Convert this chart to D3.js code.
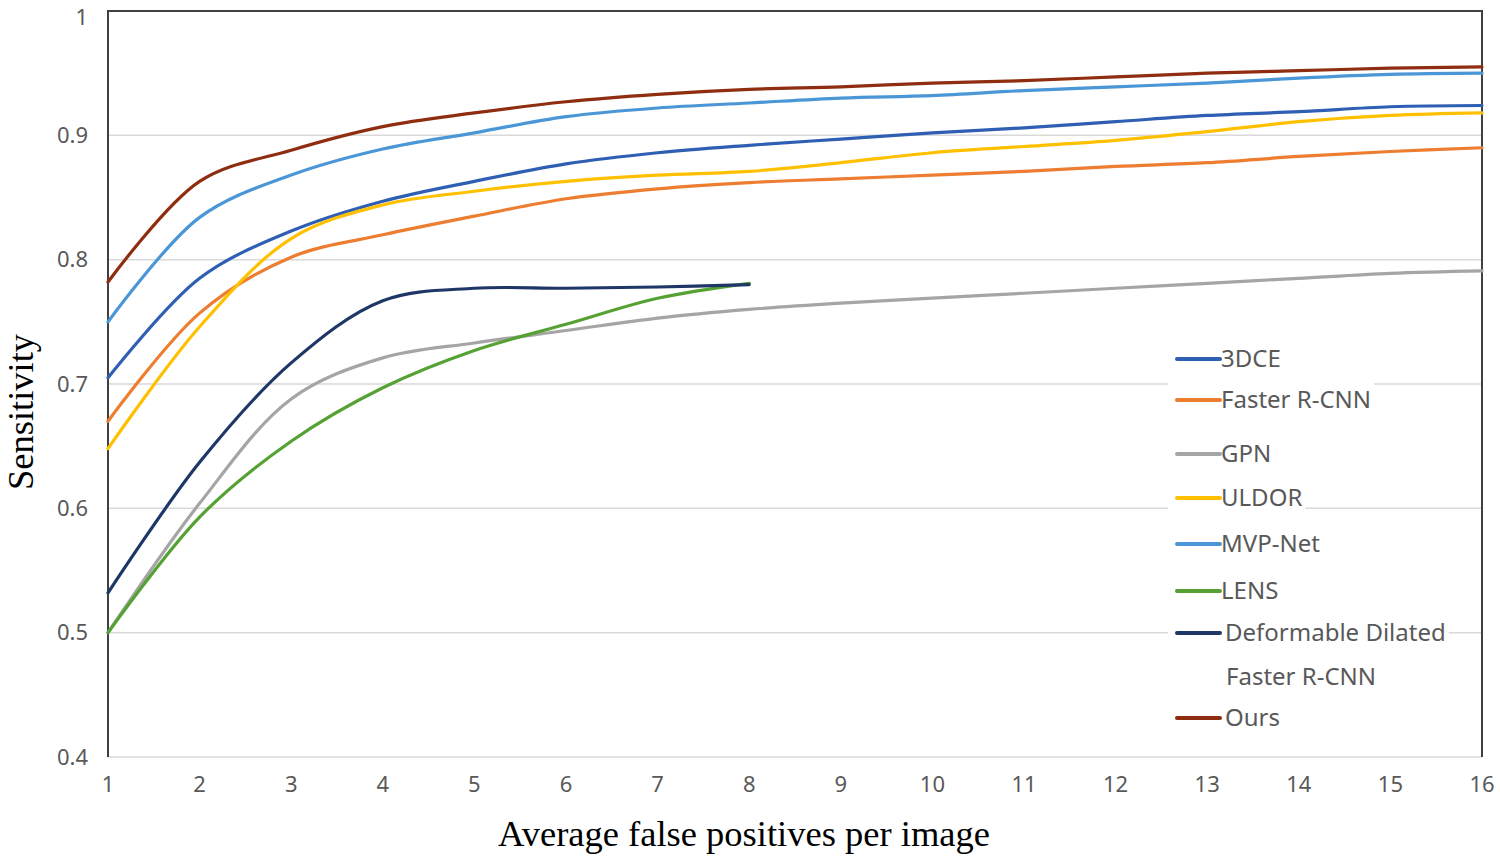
<!DOCTYPE html>
<html lang="en">
<head>
	<meta charset="UTF-8">
	<script src="https://d3js.org/d3.v7.min.js"></script>
	<title>FROC curves</title>
	<style>
		body{ margin:0; background:#fff; }
		.tick_text{ fill:#595959; font-family:"Noto Sans", sans-serif; font-size:22px; }
		.legend_text{ fill:#595959; font-family:"Noto Sans", sans-serif; font-size:24px; }
		.axis_title{ fill:#000; font-family:"Liberation Serif", "Times New Roman", serif; font-size:36.5px; }
		.grid{ stroke:#d9d9d9; stroke-width:1.5px; }
		.curve{ fill:none; stroke-width:3.2px; stroke-linecap:round; }
	</style>
</head>
<body>
	<script>
		const width = 1500, height = 858;
		const plotLeft = 108, plotRight = 1482, plotTop = 11, plotBottom = 757;

		// data
		const fps = [1,2,3,4,5,6,7,8,9,10,11,12,13,14,15,16];
		const yTicks = [0.4,0.5,0.6,0.7,0.8,0.9,1];
		const names = ["3DCE","Faster R-CNN","GPN","ULDOR","MVP-Net","LENS","Deformable Dilated","Ours"];
		const colors = ["#2f5fb3","#ed7d31","#a5a5a5","#ffc000","#4a96d6","#56a133","#1f3767","#8f2d10"];
		const dce3   = [0.705,0.785,0.823,0.847,0.863,0.877,0.886,0.892,0.897,0.902,0.906,0.911,0.916,0.919,0.923,0.924];
		const faster = [0.670,0.757,0.802,0.820,0.835,0.849,0.857,0.862,0.865,0.868,0.871,0.875,0.878,0.883,0.887,0.890];
		const gpn    = [0.500,0.604,0.688,0.721,0.733,0.743,0.753,0.760,0.765,0.769,0.773,0.777,0.781,0.785,0.789,0.791];
		const uldor  = [0.648,0.746,0.817,0.844,0.855,0.863,0.868,0.871,0.878,0.886,0.891,0.896,0.903,0.911,0.916,0.918];
		const mvp    = [0.750,0.834,0.868,0.889,0.902,0.915,0.922,0.926,0.930,0.932,0.936,0.939,0.942,0.946,0.949,0.950];
		const lens   = [0.500,0.593,0.654,0.697,0.727,0.748,0.769,0.781];
		const ddfr   = [0.532,0.637,0.717,0.767,0.777,0.777,0.778,0.780];
		const ours   = [0.782,0.863,0.888,0.907,0.918,0.927,0.933,0.937,0.939,0.942,0.944,0.947,0.950,0.952,0.954,0.955];
		const series = [dce3, faster, gpn, uldor, mvp, lens, ddfr, ours];
		const legendY = [359,400,454,498,544,591,633,718];

		const svg = d3.select("body").append("svg")
			.attr("width", width).attr("height", height);

		const x = d3.scaleLinear().domain([1,16]).range([plotLeft,plotRight]);
		const y = d3.scaleLinear().domain([0.4,1]).range([plotBottom,plotTop]);

		// grid lines
		svg.selectAll(".grid").data(yTicks.filter(d => d < 1)).enter()
			.append("line").attr("class","grid")
			.attr("x1", plotLeft).attr("x2", plotRight)
			.attr("y1", d => y(d)).attr("y2", d => y(d));

		// frame
		svg.append("path")
			.attr("d", "M"+plotLeft+","+plotBottom+"V"+plotTop+"H"+plotRight+"V"+plotBottom)
			.attr("fill","none").attr("stroke","#404040").attr("stroke-width",2);

		// tick labels
		svg.selectAll(".ylab").data(yTicks).enter()
			.append("text").attr("class","tick_text")
			.attr("x", 88).attr("y", d => Math.max(y(d), 17)).attr("dy","0.35em")
			.attr("text-anchor","end")
			.text(d => d3.format("")(d));
		svg.selectAll(".xlab").data(fps).enter()
			.append("text").attr("class","tick_text")
			.attr("x", d => x(d)).attr("y", 792)
			.attr("text-anchor","middle")
			.text(d => d);

		// curves
		const line = d3.line()
			.x((d,i) => x(fps[i]))
			.y(d => y(d))
			.curve(d3.curveCatmullRom.alpha(0.5));
		series.forEach(function (s, k) {
			svg.append("path").attr("class","curve")
				.attr("stroke", colors[k])
				.attr("d", line(s));
		});

		// legend
		const lg = svg.append("g");
		names.forEach(function (n, k) {
			const g = lg.append("g").attr("transform","translate(1177,"+legendY[k]+")");
			const bg = g.append("rect").attr("fill","#fff");
			g.append("line").attr("x1",0).attr("x2",43).attr("y1",0).attr("y2",0)
				.attr("stroke", colors[k]).attr("stroke-width",4).attr("stroke-linecap","round");
			const t = g.append("text").attr("class","legend_text")
				.attr("x", k >= 6 ? 48 : 44).attr("y",0).attr("dy","0.35em").text(n);
			if (k === 6) {
				g.append("text").attr("class","legend_text")
					.attr("x", 49).attr("y",44).attr("dy","0.35em").text("Faster R-CNN");
			}
			const w = t.node().getBBox();
			bg.attr("x",-9).attr("y",-24).attr("width", w.x + w.width + 12).attr("height",48);
		});

		// axis titles
		svg.append("text").attr("class","axis_title")
			.attr("x", 744).attr("y", 846)
			.attr("text-anchor","middle")
			.text("Average false positives per image");
		svg.append("text").attr("class","axis_title")
			.attr("transform","translate(33,412) rotate(-90)")
			.attr("text-anchor","middle")
			.attr("font-size","34.5px")
			.text("Sensitivity");
	</script>
</body>
</html>
